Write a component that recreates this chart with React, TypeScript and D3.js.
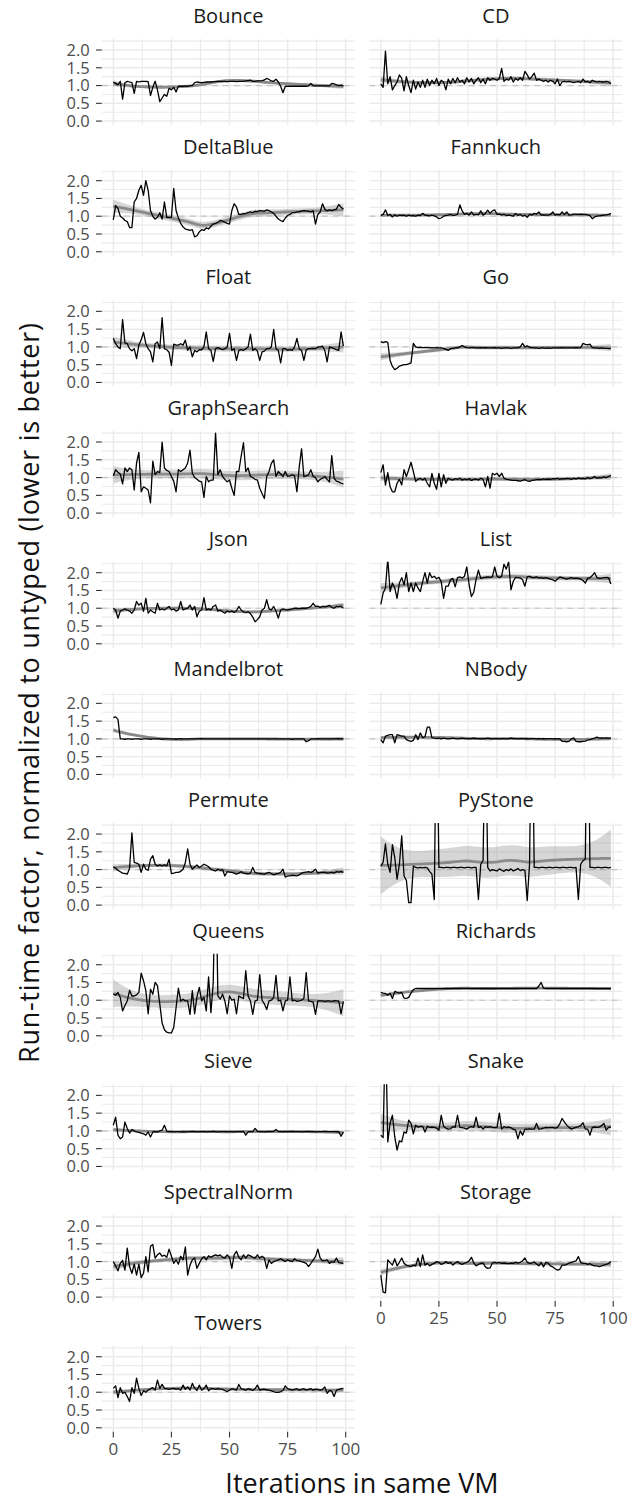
import React, { useMemo } from "react";
import * as d3 from "d3";

// ---------------- data (run-time factor per iteration 0..99) ----------------
const benchmarks = [
  "Bounce", "CD", "DeltaBlue", "Fannkuch", "Float", "Go", "GraphSearch", "Havlak",
  "Json", "List", "Mandelbrot", "NBody", "Permute", "PyStone", "Queens", "Richards",
  "Sieve", "Snake", "SpectralNorm", "Storage", "Towers",
];

const bounce = [
  1.10,1.06,1.02,1.12,0.62,1.08,1.12,1.10,1.08,0.78,
  1.12,1.10,1.12,1.12,1.12,1.11,0.72,0.95,1.12,0.88,
  0.55,0.65,0.75,0.70,0.92,0.88,0.95,0.82,0.98,0.98,
  0.98,0.99,0.98,1.00,1.00,1.08,1.10,1.09,1.08,1.09,
  1.10,1.10,1.10,1.11,1.11,1.12,1.12,1.12,1.12,1.11,
  1.12,1.12,1.12,1.11,1.12,1.12,1.12,1.13,1.14,1.15,
  1.12,1.12,1.13,1.13,1.14,1.16,1.20,1.17,1.13,1.12,
  1.18,1.10,0.98,0.80,0.98,0.98,0.98,0.98,0.98,0.98,
  0.98,0.98,0.98,0.98,0.99,1.06,0.99,0.99,0.99,0.99,
  0.99,0.99,0.99,0.99,1.06,1.05,1.02,1.00,1.01,0.99,
];
const cd = [
  1.05,0.95,1.97,1.05,1.25,0.88,1.00,1.10,1.30,1.20,
  0.85,1.25,1.00,0.80,1.15,0.90,1.10,0.95,1.15,0.95,
  1.18,1.00,1.15,1.05,1.20,1.00,1.15,1.10,0.88,1.18,
  1.05,1.20,1.08,1.22,1.10,1.15,1.05,1.22,1.10,1.20,
  1.05,1.15,1.22,1.08,1.18,1.05,1.22,1.15,1.20,1.18,
  1.15,1.20,1.48,1.12,1.18,1.15,1.25,1.10,1.20,1.15,
  1.22,1.15,1.40,1.30,1.18,1.25,1.35,1.15,1.18,1.15,
  1.12,1.15,1.10,1.15,1.12,1.05,1.18,1.00,1.10,1.12,
  1.10,1.12,1.10,1.08,1.10,1.12,1.08,1.18,1.10,1.12,
  1.08,1.15,1.12,1.10,1.12,1.10,1.10,1.12,1.10,1.05,
];
const deltaBlue = [
  0.90,1.30,1.22,1.00,0.95,0.88,0.85,0.68,0.68,1.40,
  1.50,1.73,1.87,1.59,2.00,1.73,1.16,1.00,0.92,0.97,
  1.10,0.92,1.40,0.97,0.97,0.97,1.78,1.16,0.95,0.80,
  0.70,0.64,0.62,0.60,0.62,0.42,0.45,0.56,0.62,0.60,
  0.67,0.64,0.72,0.78,0.80,0.83,0.88,0.86,0.83,0.80,
  0.78,1.16,1.35,1.26,1.05,1.05,1.07,1.08,1.10,1.12,
  1.10,1.14,1.13,1.16,1.15,1.14,1.18,1.16,1.12,1.08,
  1.00,0.92,0.88,0.85,0.95,1.02,1.05,1.10,1.10,1.12,
  1.12,1.15,1.16,1.15,1.14,1.12,1.15,0.78,1.05,1.12,
  1.35,1.20,1.15,1.18,1.16,1.18,1.20,1.33,1.25,1.20,
];
const fannkuch = [
  1.02,1.05,1.18,1.02,1.05,0.98,1.04,1.00,1.03,1.02,
  1.03,1.00,1.03,1.01,1.02,1.00,1.03,1.02,1.08,1.03,
  1.02,1.01,1.03,1.01,0.98,0.93,0.95,1.00,1.02,1.03,
  1.05,1.02,1.03,1.05,1.32,1.15,1.05,1.08,1.03,1.12,
  1.03,1.05,1.04,1.15,1.03,1.08,1.17,1.08,1.15,1.18,
  1.05,1.06,1.03,1.05,1.02,1.03,1.02,1.00,1.08,1.02,
  1.05,1.00,1.03,0.97,1.05,1.03,1.08,1.06,1.12,1.03,
  1.04,1.03,1.03,1.05,1.12,1.03,1.05,1.04,1.12,1.05,
  1.12,1.03,1.04,1.06,1.06,1.05,1.06,1.05,1.05,1.04,
  1.02,0.93,0.98,1.00,1.01,1.02,1.03,1.04,1.05,1.08,
];
const float = [
  1.24,1.09,1.00,0.95,1.77,1.11,1.09,0.95,0.89,0.95,
  0.67,1.05,1.20,1.41,1.09,0.95,0.86,0.58,1.09,1.14,
  0.95,1.82,0.95,0.92,0.85,0.48,1.08,1.05,1.05,1.09,
  1.05,1.19,0.90,1.00,0.72,0.90,0.86,0.92,0.92,1.00,
  1.42,0.95,0.90,0.59,0.95,0.98,0.95,0.92,0.95,1.00,
  1.38,0.90,0.95,0.62,0.90,0.92,0.90,0.95,1.00,1.36,
  0.90,0.95,0.88,0.62,0.86,0.88,0.95,0.95,1.00,1.49,
  0.95,0.90,0.55,0.95,0.95,0.90,0.92,0.90,1.00,1.24,
  0.95,0.90,0.62,0.92,0.95,0.95,0.96,0.95,1.00,1.00,
  1.02,0.90,0.58,1.00,0.98,0.95,0.92,0.90,1.42,1.02,
];
const go = [
  1.15,1.12,1.15,1.13,0.62,0.45,0.36,0.40,0.46,0.48,
  0.50,0.50,0.52,0.55,1.10,1.00,0.98,0.99,0.98,0.98,
  0.98,0.97,0.98,0.97,0.98,0.97,0.97,0.96,0.93,0.90,
  0.95,0.96,0.97,0.97,1.00,1.04,1.00,0.98,0.97,0.98,
  0.98,0.97,0.97,0.98,0.97,0.98,0.97,0.97,0.97,0.98,
  0.97,0.97,0.96,0.97,0.97,0.97,0.96,0.97,0.97,0.97,
  1.00,1.10,1.00,1.03,0.99,0.98,0.97,0.97,0.96,0.97,
  0.97,0.96,0.97,0.96,0.97,0.97,0.97,0.97,0.98,0.97,
  0.97,0.97,0.97,0.97,0.98,0.97,0.98,1.10,1.07,1.06,
  1.08,0.98,0.97,0.97,0.96,0.97,0.96,0.96,0.95,0.95,
];
const graphSearch = [
  1.05,1.22,1.15,1.10,0.82,1.27,1.17,1.27,1.22,0.65,
  1.41,1.71,0.60,0.74,0.70,0.65,0.29,1.46,1.08,1.17,
  1.14,2.00,1.27,1.20,1.17,1.03,0.90,0.60,1.22,1.17,
  1.22,1.27,1.41,1.77,1.12,1.00,0.95,0.90,0.88,0.44,
  1.03,0.88,0.93,0.93,2.25,1.08,1.22,1.03,0.95,0.88,
  0.93,0.70,0.50,1.17,1.17,1.60,1.98,1.17,1.27,1.03,
  1.00,0.95,0.93,0.70,0.55,0.41,1.03,1.17,1.40,1.50,
  1.03,1.17,1.10,1.03,1.17,1.03,1.05,1.08,1.05,0.60,
  1.30,1.81,1.03,1.05,1.08,1.22,1.03,1.00,0.88,0.95,
  0.98,1.03,0.95,0.88,1.62,0.98,0.90,0.88,0.84,0.82,
];
const havlak = [
  1.14,1.36,0.79,1.14,0.74,0.60,0.60,0.84,0.95,0.79,
  1.22,1.03,1.22,1.43,1.17,0.89,0.95,0.98,0.93,0.98,
  0.84,0.74,1.12,0.84,0.67,1.12,0.74,1.08,0.84,0.98,
  0.95,0.93,0.97,0.95,0.98,0.93,0.96,0.94,0.97,0.92,
  0.95,0.96,0.93,0.98,0.95,0.74,1.03,0.70,1.12,1.08,
  1.12,1.03,1.12,0.98,0.95,0.94,0.93,0.92,0.92,0.91,
  0.90,0.92,0.94,0.91,0.89,0.92,0.93,0.94,0.95,0.94,
  0.96,0.95,0.96,0.95,0.97,0.96,0.98,0.95,0.97,0.96,
  0.98,0.97,0.95,0.98,0.96,0.99,0.97,0.98,0.96,1.00,
  0.97,0.99,1.03,0.98,1.00,0.99,1.02,1.00,1.03,1.06,
];
const json = [
  1.00,0.95,0.72,0.92,0.95,0.98,0.95,0.92,0.86,0.95,
  1.19,1.09,1.14,0.91,1.28,0.86,0.95,0.90,0.86,1.14,
  0.95,0.98,0.95,1.00,1.05,0.95,0.98,0.92,0.95,1.19,
  0.95,0.98,1.00,1.09,0.95,1.05,0.76,0.92,0.95,1.30,
  0.95,0.98,0.95,1.05,1.09,0.92,0.95,0.90,0.86,0.92,
  0.90,0.92,0.88,0.93,1.05,0.95,0.90,0.88,0.90,0.85,
  0.75,0.62,0.68,0.76,0.95,1.00,1.24,0.98,0.95,1.05,
  0.92,0.72,0.95,0.98,0.96,0.95,0.97,0.98,1.00,1.00,
  0.99,1.00,1.00,1.00,1.02,1.05,1.14,1.05,1.06,1.02,
  1.05,1.04,1.05,1.08,1.02,1.00,1.05,1.04,1.05,1.00,
];
const list = [
  1.11,1.43,1.57,2.40,1.47,1.71,1.57,1.28,1.71,1.86,
  1.66,2.00,1.47,1.71,1.47,1.71,1.57,1.47,1.75,2.00,
  1.71,2.00,1.86,1.90,1.83,1.87,1.75,1.28,1.62,1.62,
  1.81,1.84,1.60,1.86,1.88,1.85,1.90,2.16,1.66,1.33,
  1.45,1.81,2.07,1.84,1.86,1.87,1.88,1.87,1.88,2.16,
  1.90,1.86,1.90,2.24,2.10,2.31,1.52,1.76,1.87,1.86,
  1.85,1.80,1.62,1.88,1.90,1.86,1.86,1.88,1.85,1.86,
  1.84,1.86,1.84,1.82,1.80,1.76,1.82,1.88,1.86,1.84,
  1.82,1.84,1.86,1.84,1.85,1.84,1.82,1.78,1.71,1.84,
  1.86,1.92,2.00,1.86,1.84,1.85,1.86,1.87,1.86,1.68,
];
const mandelbrot = [
  1.60,1.62,1.55,1.00,1.00,0.99,1.00,1.00,0.99,1.00,
  1.00,1.00,0.99,1.00,1.00,1.00,0.99,1.00,1.00,1.00,
  1.00,0.99,1.00,1.00,1.00,1.00,1.00,0.99,1.00,1.01,
  1.00,1.00,1.00,1.00,1.00,1.00,1.00,1.00,1.01,1.00,
  1.00,1.00,1.00,1.00,1.00,1.00,1.00,1.00,1.00,1.00,
  1.00,1.00,1.00,1.00,1.00,1.00,1.00,1.00,1.00,1.00,
  1.00,1.00,1.00,1.00,1.00,1.00,1.00,1.00,1.00,1.00,
  1.00,1.00,1.00,1.00,1.00,1.00,1.00,0.99,1.00,1.00,
  1.00,1.00,1.00,0.92,0.95,1.00,1.00,1.00,1.01,1.00,
  1.00,1.00,1.00,1.00,1.00,1.00,1.00,1.01,1.00,1.00,
];
const nBody = [
  0.98,0.89,1.08,1.10,1.12,1.12,0.89,1.12,1.10,1.08,
  1.08,0.98,0.95,0.93,0.96,1.12,0.98,1.17,1.03,1.06,
  1.33,1.33,1.03,1.02,1.01,1.02,1.00,1.02,1.01,1.00,
  1.01,1.02,1.01,1.00,1.01,1.02,1.01,1.01,1.00,1.01,
  1.02,1.01,1.01,1.00,1.01,1.01,1.02,1.01,1.00,1.01,
  1.01,1.00,1.01,1.01,1.00,1.01,1.02,1.01,1.01,1.00,
  1.01,1.01,1.00,1.01,1.00,1.01,1.01,1.00,1.01,1.00,
  1.01,1.00,1.01,1.01,1.00,1.01,1.00,1.01,0.93,0.93,
  0.92,0.93,1.00,1.03,0.93,0.92,0.92,0.93,0.94,0.97,
  0.98,1.00,1.02,1.05,1.02,1.03,1.02,1.03,1.02,1.02,
];
const permute = [
  1.08,1.04,0.98,0.94,0.90,0.89,0.87,1.04,2.03,1.20,
  1.18,1.15,0.92,1.15,1.01,0.98,1.29,1.39,1.15,1.10,
  1.13,1.10,1.13,1.10,1.29,0.89,0.90,0.92,0.92,0.95,
  1.01,1.20,1.58,1.15,1.01,1.08,1.13,1.06,1.10,1.15,
  1.12,1.08,1.01,0.98,0.96,1.01,0.98,1.00,0.82,0.94,
  0.93,0.92,0.90,0.87,0.90,0.94,0.90,0.89,0.88,0.90,
  1.06,0.92,0.90,0.89,0.88,0.87,0.90,0.92,0.89,0.85,
  0.88,0.89,0.92,1.01,0.79,0.82,0.82,0.84,0.83,0.82,
  0.85,0.90,0.92,0.93,0.94,0.92,0.95,1.01,0.90,0.92,
  0.92,0.93,0.90,0.91,0.92,0.90,0.94,0.93,0.94,0.92,
];
const pyStone = [
  1.10,1.20,1.72,1.15,0.92,1.70,1.34,0.73,1.15,1.95,
  0.82,0.70,0.07,0.07,1.10,1.06,1.05,1.06,1.05,1.06,
  1.05,0.95,0.87,0.16,6.00,1.06,1.06,1.05,1.06,1.06,
  1.05,1.06,1.06,1.05,1.06,1.06,1.05,1.06,1.06,1.05,
  1.06,1.06,0.16,1.15,1.25,5.50,1.06,0.96,1.00,0.98,
  0.96,1.02,0.98,0.95,1.00,0.97,1.02,0.96,0.99,1.03,
  0.97,1.00,0.98,0.13,1.15,6.50,1.06,1.06,1.05,1.06,
  1.06,1.05,1.06,1.06,1.05,1.06,1.06,1.05,1.06,1.06,
  1.05,1.06,1.06,1.05,1.06,0.16,1.15,1.25,1.30,7.00,
  1.06,1.06,1.05,1.06,1.06,1.05,1.06,1.06,1.05,1.06,
];
const queens = [
  1.17,1.14,1.22,1.08,0.70,0.85,0.98,1.28,1.12,1.12,
  1.15,1.22,1.76,1.55,1.27,0.62,1.31,1.17,1.50,1.41,
  0.89,0.36,0.17,0.10,0.08,0.08,0.23,0.79,1.34,0.98,
  1.03,0.98,0.98,0.60,1.27,0.62,1.10,1.36,0.98,1.08,
  0.70,1.66,0.65,1.50,5.00,1.12,1.03,1.17,0.98,0.62,
  1.12,1.00,1.03,0.62,1.12,1.08,1.05,1.83,1.12,0.98,
  0.60,0.98,1.00,1.72,1.00,0.90,0.74,0.98,1.00,1.08,
  1.70,0.98,1.00,0.70,0.98,1.00,1.66,0.98,1.00,0.97,
  0.98,1.00,1.05,1.78,0.98,0.97,0.95,0.60,0.98,0.98,
  0.98,0.97,0.98,0.98,0.97,0.99,0.98,0.98,0.62,0.97,
];
const richards = [
  1.22,1.20,1.19,1.14,1.20,1.05,1.25,1.22,1.20,1.22,
  1.06,1.05,1.08,1.20,1.30,1.33,1.33,1.33,1.33,1.33,
  1.33,1.33,1.33,1.33,1.33,1.33,1.33,1.33,1.33,1.33,
  1.33,1.33,1.33,1.33,1.33,1.33,1.33,1.33,1.33,1.33,
  1.33,1.33,1.33,1.33,1.33,1.33,1.33,1.33,1.33,1.33,
  1.33,1.33,1.33,1.33,1.33,1.33,1.33,1.33,1.33,1.33,
  1.33,1.33,1.33,1.33,1.33,1.33,1.33,1.33,1.40,1.50,
  1.34,1.33,1.33,1.33,1.33,1.33,1.33,1.33,1.33,1.33,
  1.33,1.33,1.33,1.33,1.33,1.33,1.33,1.33,1.33,1.33,
  1.33,1.33,1.33,1.33,1.33,1.33,1.33,1.33,1.33,1.33,
];
const sieve = [
  1.16,1.39,0.88,0.78,0.83,1.25,1.07,0.94,1.04,1.00,
  0.97,0.96,0.94,0.92,0.88,0.97,0.83,0.97,0.98,0.97,
  1.00,1.02,1.16,0.99,0.98,0.98,0.97,0.98,0.98,0.97,
  0.98,0.97,0.98,0.98,0.99,0.98,0.97,0.98,0.98,0.98,
  0.97,0.98,0.98,0.99,0.98,0.97,0.98,0.98,0.98,0.97,
  0.98,0.98,0.97,0.98,0.98,0.98,0.99,0.88,0.97,0.98,
  0.98,1.07,0.99,0.98,0.98,0.97,0.98,0.98,0.98,0.99,
  1.04,0.98,0.98,0.97,0.98,0.98,0.98,0.99,0.98,0.98,
  0.98,0.97,0.98,0.98,0.99,0.98,0.98,0.97,0.98,0.98,
  0.98,0.99,0.98,0.98,0.98,0.98,0.97,0.98,0.85,0.97,
];
const snake = [
  0.88,0.81,4.00,0.69,1.21,1.44,0.83,0.46,0.72,0.69,
  0.97,0.94,1.30,1.21,0.92,1.16,1.11,1.13,1.13,0.97,
  1.13,1.10,1.11,1.10,1.08,1.02,1.44,1.13,1.08,1.05,
  1.06,1.12,1.10,1.44,1.10,1.09,1.08,1.05,1.10,1.12,
  1.10,1.39,1.09,1.12,1.05,1.12,1.10,1.12,1.10,1.09,
  1.10,1.50,1.05,1.12,1.10,1.11,1.09,1.05,1.02,0.78,
  1.00,0.88,1.05,1.05,1.06,1.05,1.05,1.21,1.05,1.06,
  1.08,1.10,1.09,1.10,1.10,1.08,1.10,1.20,1.35,1.25,
  1.16,1.10,1.05,1.08,1.10,1.12,1.15,1.23,1.05,1.05,
  0.88,1.10,1.11,1.10,1.11,1.15,1.21,1.02,1.10,1.11,
];
const spectralNorm = [
  1.00,0.88,0.74,0.95,1.03,0.76,1.38,0.86,0.67,0.93,
  0.62,0.93,0.55,0.67,1.14,0.71,1.43,1.48,1.10,1.19,
  1.24,1.15,1.18,1.12,1.35,1.15,0.95,1.05,0.93,1.15,
  1.05,1.41,0.62,0.90,1.05,1.10,0.81,0.95,1.08,1.14,
  1.05,1.16,1.12,1.16,1.19,1.16,1.19,1.12,1.10,1.19,
  1.12,0.81,1.19,1.29,1.12,1.05,1.19,1.10,1.19,1.16,
  1.12,1.10,1.19,1.10,1.15,1.10,0.81,1.05,0.95,1.00,
  1.02,1.05,1.08,1.04,1.00,1.05,1.02,1.00,1.08,1.03,
  1.02,1.00,0.98,0.95,0.86,0.95,1.05,1.14,1.35,1.10,
  1.02,1.03,1.05,0.95,1.00,0.98,1.10,0.97,0.96,0.95,
];
const storage = [
  0.62,0.14,0.12,1.05,0.97,0.90,1.08,0.88,0.98,1.10,
  0.95,0.90,0.88,0.86,0.90,0.88,1.10,0.86,1.19,0.90,
  0.95,0.88,0.92,0.95,1.00,0.98,0.92,0.95,1.00,0.95,
  0.98,0.90,0.96,1.00,0.95,0.92,0.96,0.98,1.02,1.12,
  0.96,0.88,0.92,0.95,0.96,0.85,0.81,0.82,0.96,0.98,
  0.96,0.98,0.95,0.96,0.95,0.94,0.96,0.95,0.98,0.96,
  0.98,1.02,1.10,0.98,0.95,0.96,0.99,0.93,0.88,0.98,
  0.85,0.98,0.96,0.88,0.85,0.80,0.76,0.78,0.90,0.90,
  0.92,0.96,0.98,1.00,1.02,1.14,0.98,0.95,0.95,0.92,
  0.94,0.90,0.88,0.88,0.86,0.88,0.90,0.92,0.95,1.00,
];
const towers = [
  1.11,1.18,0.85,1.13,0.97,1.00,0.88,0.74,1.13,0.97,
  1.40,1.11,0.91,1.04,1.00,1.06,1.10,1.13,1.06,1.34,
  1.11,1.22,1.11,1.10,1.08,1.10,1.11,1.08,1.10,1.06,
  1.20,1.08,1.15,1.06,1.25,1.11,1.05,1.20,1.06,1.10,
  1.20,1.04,1.10,1.10,1.08,1.10,1.09,1.08,1.05,1.02,
  1.06,1.10,1.08,1.06,1.22,1.10,1.08,1.06,1.10,1.08,
  1.05,1.10,1.20,1.06,1.08,1.09,1.07,1.06,1.04,1.02,
  1.00,1.00,1.02,1.05,1.18,1.10,1.08,1.06,1.08,1.10,
  1.06,1.08,1.10,1.06,1.08,1.10,1.06,1.09,1.08,1.06,
  1.08,1.15,0.97,1.05,1.03,0.88,1.06,1.08,1.10,1.11,
];

const seriesValues = [
  bounce, cd, deltaBlue, fannkuch, float, go, graphSearch, havlak, json, list,
  mandelbrot, nBody, permute, pyStone, queens, richards, sieve, snake,
  spectralNorm, storage, towers,
];

const yTicks = [0, 0.5, 1, 1.5, 2];
const yMinorTicks = [0.25, 0.75, 1.25, 1.75, 2.25];
const xTicks = [0, 25, 50, 75, 100];
const xMinorTicks = [12.5, 37.5, 62.5, 87.5];
const xAxisPanels = ["Storage", "Towers"];
const yTitle = "Run-time factor, normalized to untyped (lower is better)";
const xTitle = "Iterations in same VM";

// ---------------- layout ----------------
const WIDTH = 641;
const HEIGHT = 1500;
const PANEL_W = 253.1;
const PANEL_H = 86;
const COL_LEFT = [101.8, 369.3];
const TOP0 = 39;
const PITCH = 130.67;
const FONT = "'Open Sans', 'DejaVu Sans', sans-serif";

// ---------------- loess (span 0.75, degree 2) with standard errors ----------------
function loessRow(xs: number[], x0: number, q: number): number[] {
  const d = xs.map((x) => Math.abs(x - x0));
  const sorted = d.slice().sort((a, b) => a - b);
  let h = sorted[Math.min(q, xs.length) - 1];
  if (h <= 0) h = 1e-9;
  const w = d.map((v) => (v < h ? Math.pow(1 - Math.pow(v / h, 3), 3) : 0));
  const S = [0, 0, 0, 0, 0];
  for (let i = 0; i < xs.length; i++) {
    const u = (xs[i] - x0) / h;
    let p = w[i];
    for (let k = 0; k < 5; k++) {
      S[k] += p;
      p *= u;
    }
  }
  const a = S[0], b = S[1], c = S[2], dd = S[3], e = S[4];
  const C00 = c * e - dd * dd;
  const C01 = -(b * e - dd * c);
  const C02 = b * dd - c * c;
  const det = a * C00 + b * C01 + c * C02;
  const r0 = C00 / det, r1 = C01 / det, r2 = C02 / det;
  return xs.map((x, i) => {
    const u = (x - x0) / h;
    return w[i] * (r0 + r1 * u + r2 * u * u);
  });
}

function qt975(df: number): number {
  const z = 1.959964;
  const g1 = (z ** 3 + z) / 4;
  const g2 = (5 * z ** 5 + 16 * z ** 3 + 3 * z) / 96;
  const g3 = (3 * z ** 7 + 19 * z ** 5 + 17 * z ** 3 - 15 * z) / 384;
  return z + g1 / df + g2 / (df * df) + g3 / (df * df * df);
}

interface SmoothPt { x: number; y: number; lo: number; hi: number; }

function loessSmooth(ys: number[], span = 0.75, nEval = 80): SmoothPt[] {
  const n = ys.length;
  const xs = d3.range(n);
  const q = Math.floor(n * span);
  const L = xs.map((x0) => loessRow(xs, x0, q));
  const fitted = L.map((l) => d3.sum(l.map((v, i) => v * ys[i])));
  const rss = d3.sum(ys.map((y, i) => (y - fitted[i]) ** 2));
  const B = L.map((row, i) => row.map((v, j) => (i === j ? 1 : 0) - v));
  let one = 0;
  let two = 0;
  for (let j = 0; j < n; j++) {
    for (let k = j; k < n; k++) {
      let s = 0;
      for (let i = 0; i < n; i++) s += B[i][j] * B[i][k];
      if (j === k) {
        one += s;
        two += s * s;
      } else {
        two += 2 * s * s;
      }
    }
  }
  const sigma = Math.sqrt(rss / one);
  const t = qt975((one * one) / two);
  const x0 = 0, x1 = n - 1;
  return d3.range(nEval).map((k) => {
    const xe = x0 + (k * (x1 - x0)) / (nEval - 1);
    const l = loessRow(xs, xe, q);
    const fit = d3.sum(l.map((v, i) => v * ys[i]));
    const se = sigma * Math.sqrt(d3.sum(l.map((v) => v * v)));
    return { x: xe, y: fit, lo: fit - t * se, hi: fit + t * se };
  });
}

// ---------------- component ----------------
export default function App() {
  const panels = useMemo(
    () =>
      benchmarks.map((name, i) => {
        const col = i % 2;
        const row = Math.floor(i / 2);
        const left = COL_LEFT[col];
        const top = TOP0 + row * PITCH;
        const x = d3.scaleLinear().domain([-4.95, 103.95]).range([left, left + PANEL_W]);
        const y = d3.scaleLinear().domain([-0.11, 2.31]).range([top + PANEL_H, top]);
        const values = seriesValues[i];
        const smooth = loessSmooth(values);
        const line = d3
          .line<number>()
          .x((_, k) => x(k))
          .y((v) => y(v))(values) as string;
        const sLine = d3
          .line<SmoothPt>()
          .x((p) => x(p.x))
          .y((p) => y(p.y))(smooth) as string;
        const band = d3
          .area<SmoothPt>()
          .x((p) => x(p.x))
          .y0((p) => y(p.lo))
          .y1((p) => y(p.hi))(smooth) as string;
        return { name, i, col, row, left, top, x, y, line, sLine, band };
      }),
    []
  );

  const gridColor = "#ebebeb";

  return (
    <div style={{ position: "absolute", left: 0, top: 0 }}>
      <svg width={WIDTH} height={HEIGHT} xmlns="http://www.w3.org/2000/svg" style={{ display: "block", background: "#fff" }}>
        <defs>
          {panels.map((p) => (
            <clipPath id={`clip-${p.i}`} key={p.i}>
              <rect x={p.left} y={p.top} width={PANEL_W} height={PANEL_H} />
            </clipPath>
          ))}
        </defs>
        {panels.map((p) => {
          const [x0, x1] = p.x.range();
          const [y0, y1] = p.y.range();
          const cx = (x0 + x1) / 2;
          return (
            <g key={p.name}>
              {yMinorTicks.map((t) => (
                <line key={`ym${t}`} x1={x0} x2={x1} y1={p.y(t)} y2={p.y(t)} stroke={gridColor} strokeWidth={1.1} />
              ))}
              {xMinorTicks.map((t) => (
                <line key={`xm${t}`} x1={p.x(t)} x2={p.x(t)} y1={y0} y2={y1} stroke={gridColor} strokeWidth={1.1} />
              ))}
              {yTicks.map((t) => (
                <line key={`y${t}`} x1={x0} x2={x1} y1={p.y(t)} y2={p.y(t)} stroke={gridColor} strokeWidth={1.5} />
              ))}
              {xTicks.map((t) => (
                <line key={`x${t}`} x1={p.x(t)} x2={p.x(t)} y1={y0} y2={y1} stroke={gridColor} strokeWidth={1.5} />
              ))}
              <text x={cx} y={p.top - 16} textAnchor="middle" fontFamily={FONT} fontSize={20} fill="#1a1a1a">
                {p.name}
              </text>
              <g clipPath={`url(#clip-${p.i})`}>
                <line x1={x0} x2={x1} y1={p.y(1)} y2={p.y(1)} stroke="#c4c4c4" strokeWidth={1.2} strokeDasharray="6 5" />
                <path d={p.band} fill="#999999" fillOpacity={0.4} stroke="none" />
                <path d={p.sLine} fill="none" stroke="#8a8a8a" strokeWidth={2.8} strokeLinejoin="round" />
                <path d={p.line} fill="none" stroke="#000" strokeWidth={1.3} strokeLinejoin="round" />
              </g>
              {p.col === 0 &&
                yTicks.map((t) => (
                  <g key={`yt${t}`}>
                    <line x1={x0 - 5.8} x2={x0} y1={p.y(t)} y2={p.y(t)} stroke="#333" strokeWidth={1.1} />
                    <text x={x0 - 12} y={p.y(t)} dy="0.36em" textAnchor="end" fontFamily={FONT} fontSize={16.5} fill="#4d4d4d">
                      {d3.format(".1f")(t)}
                    </text>
                  </g>
                ))}
              {xAxisPanels.includes(p.name) &&
                xTicks.map((t) => (
                  <g key={`xt${t}`}>
                    <line x1={p.x(t)} x2={p.x(t)} y1={y0} y2={y0 + 5.8} stroke="#333" strokeWidth={1.1} />
                    <text x={p.x(t)} y={y0 + 23} textAnchor="middle" fontFamily={FONT} fontSize={17} fill="#4d4d4d">
                      {t}
                    </text>
                  </g>
                ))}
            </g>
          );
        })}
        <text x={362} y={1493} textAnchor="middle" fontFamily={FONT} fontSize={27} fill="#111">
          {xTitle}
        </text>
        <text
          transform="translate(30,693) rotate(-90)"
          textAnchor="middle"
          dy="0.35em"
          fontFamily={FONT}
          fontSize={27}
          textLength={740}
          lengthAdjust="spacing"
          fill="#111"
        >
          {yTitle}
        </text>
      </svg>
    </div>
  );
}
